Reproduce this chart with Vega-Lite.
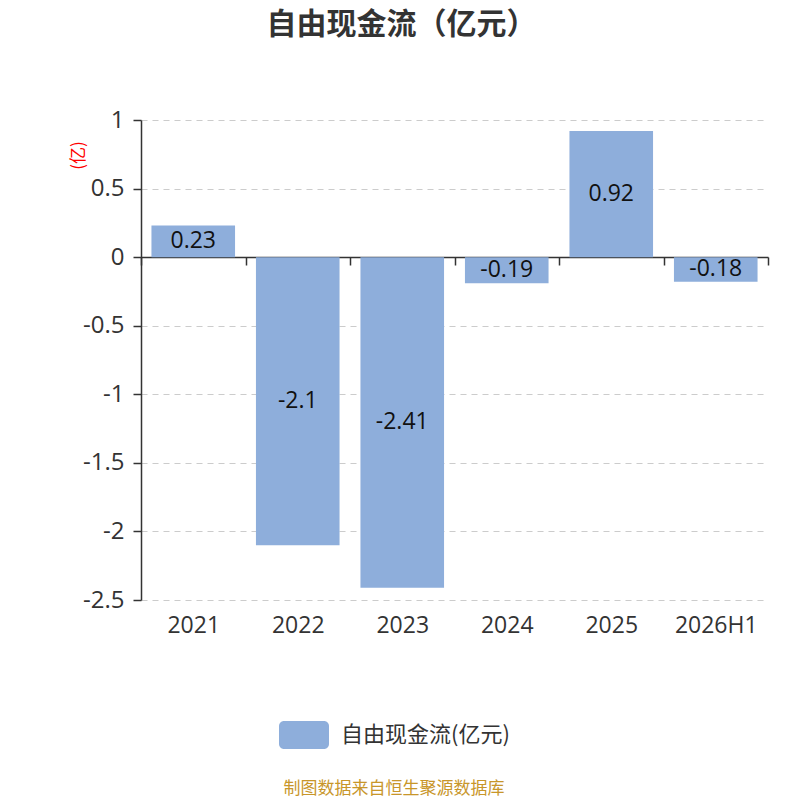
{
  "$schema": "https://vega.github.io/schema/vega-lite/v6.json",
  "width": 627,
  "height": 480,
  "autosize": {"type": "none"},
  "padding": {"left": 141, "top": 120, "right": 32, "bottom": 200},
  "background": "white",
  "title": {
    "text": "自由现金流（亿元）",
    "font": "Noto Sans CJK SC",
    "fontSize": 30,
    "fontWeight": "bold",
    "color": "#333333",
    "anchor": "middle",
    "dx": -53,
    "offset": 68
  },
  "data": {
    "values": [
      {"year": "2021", "value": 0.23, "series": "自由现金流(亿元)"},
      {"year": "2022", "value": -2.1, "series": "自由现金流(亿元)"},
      {"year": "2023", "value": -2.41, "series": "自由现金流(亿元)"},
      {"year": "2024", "value": -0.19, "series": "自由现金流(亿元)"},
      {"year": "2025", "value": 0.92, "series": "自由现金流(亿元)"},
      {"year": "2026H1", "value": -0.18, "series": "自由现金流(亿元)"}
    ]
  },
  "transform": [
    {"calculate": "datum.value / 2", "as": "mid"}
  ],
  "encoding": {
    "x": {
      "field": "year",
      "type": "nominal",
      "sort": null,
      "scale": {"paddingInner": 0, "paddingOuter": 0},
      "axis": {
        "title": null,
        "offset": -343,
        "domainColor": "#333333",
        "domainWidth": 1.5,
        "tickColor": "#333333",
        "tickWidth": 1.5,
        "tickSize": 8,
        "tickBand": "extent",
        "labelAngle": 0,
        "labelFont": "Open Sans",
        "labelFontSize": 23,
        "labelColor": "#333333",
        "labelPadding": 349,
        "labelBaseline": "top",
        "grid": false
      }
    },
    "y": {
      "field": "value",
      "type": "quantitative",
      "scale": {"domain": [-2.5, 1], "nice": false, "zero": false},
      "axis": {
        "title": "(亿)",
        "titleColor": "red",
        "titleFont": "Noto Sans CJK SC",
        "titleFontSize": 17,
        "titleFontWeight": "normal",
        "titleAngle": -90,
        "titleAlign": "center",
        "titleBaseline": "middle",
        "titleX": -63,
        "titleY": 35,
        "values": [-2.5, -2, -1.5, -1, -0.5, 0, 0.5, 1],
        "labelExpr": "datum.value + ''",
        "labelFont": "Open Sans",
        "labelFontSize": 24,
        "labelColor": "#333333",
        "labelPadding": 9,
        "domainColor": "#333333",
        "domainWidth": 1.5,
        "tickColor": "#333333",
        "tickWidth": 1.5,
        "tickSize": 8,
        "grid": true,
        "gridColor": "#cccccc",
        "gridDash": [6, 5],
        "gridWidth": 1.2
      }
    }
  },
  "layer": [
    {
      "mark": {"type": "bar", "color": "#8eaedb", "width": {"band": 0.8}},
      "encoding": {
        "color": {
          "field": "series",
          "type": "nominal",
          "scale": {"range": ["#8eaedb"]},
          "legend": {
            "orient": "none",
            "legendX": 138,
            "legendY": 590,
            "direction": "horizontal",
            "title": "制图数据来自恒生聚源数据库",
            "titleOrient": "bottom",
            "titleAnchor": "middle",
            "titleLimit": 500,
            "titleFont": "Noto Sans CJK SC",
            "titleFontSize": 17,
            "titleFontWeight": "normal",
            "titleColor": "#c8962a",
            "titlePadding": 32,
            "symbolType": "M-0.8,-0.56 L0.8,-0.56 A0.2,0.2 0 0 1 1,-0.36 L1,0.36 A0.2,0.2 0 0 1 0.8,0.56 L-0.8,0.56 A0.2,0.2 0 0 1 -1,0.36 L-1,-0.36 A0.2,0.2 0 0 1 -0.8,-0.56 Z",
            "symbolSize": 2500,
            "symbolStrokeWidth": 0,
            "symbolOpacity": 1,
            "labelFont": "Noto Sans CJK SC",
            "labelFontSize": 22,
            "labelLimit": 400,
            "labelColor": "#333333",
            "labelOffset": 12
          }
        }
      }
    },
    {
      "mark": {
        "type": "text",
        "font": "Open Sans",
        "fontSize": 23,
        "color": "#111111",
        "baseline": "middle",
        "align": "center"
      },
      "encoding": {
        "y": {"field": "mid", "type": "quantitative"},
        "text": {"field": "value", "type": "nominal"}
      }
    }
  ],
  "config": {
    "view": {"stroke": null},
    "axis": {"zindex": 1}
  }
}
